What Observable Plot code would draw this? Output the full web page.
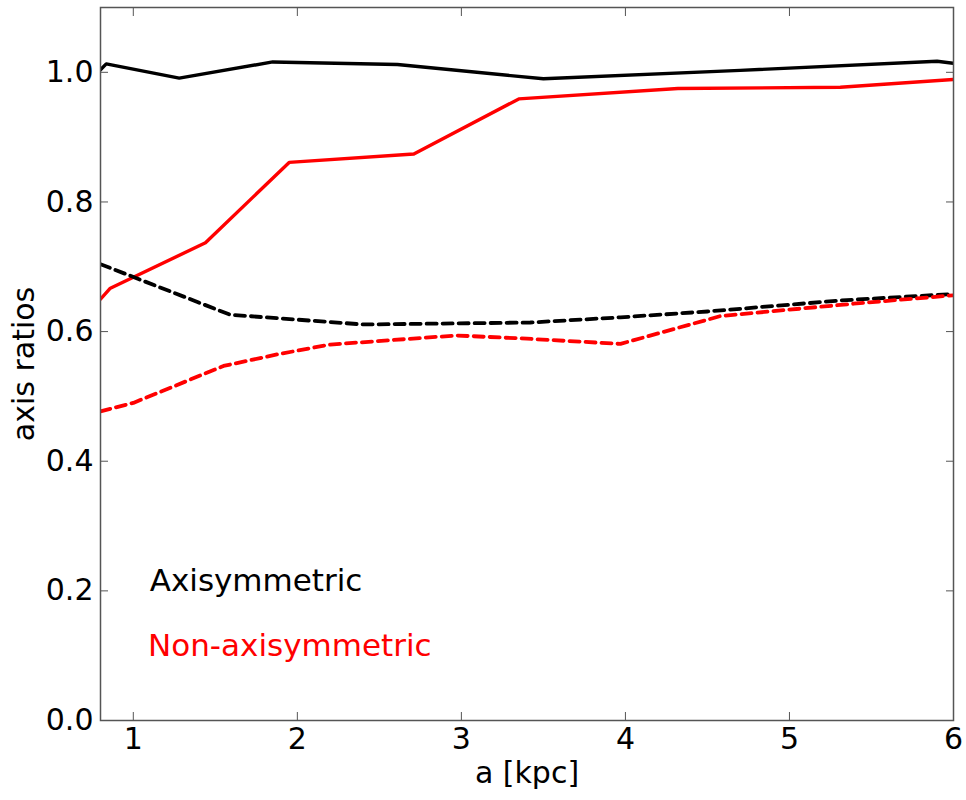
<!DOCTYPE html>
<html>
<head>
<meta charset="utf-8">
<script src="https://cdn.jsdelivr.net/npm/d3@7"></script>
<script src="https://cdn.jsdelivr.net/npm/@observablehq/plot@0.6"></script>
<style>
  html, body { margin: 0; padding: 0; background: #fff; }
  #chart svg { display: block; font-family: "DejaVu Sans", sans-serif; }
</style>
</head>
<body>
<div id="chart"></div>
<script>
// Axisymmetric model (black)
const axiSolidA = [0.80, 0.835, 1.28, 1.85, 2.61, 3.50, 4.70, 5.90, 6.00];
const axiSolidQ = [1.004, 1.013, 0.991, 1.016, 1.012, 0.990, 1.003, 1.017, 1.014];
const axiDashA  = [0.80, 1.59, 2.40, 3.42, 3.97, 4.50, 5.31, 6.00];
const axiDashQ  = [0.704, 0.626, 0.611, 0.614, 0.622, 0.631, 0.648, 0.658];
// Non-axisymmetric model (red)
const nonSolidA = [0.80, 0.86, 1.44, 1.95, 2.71, 3.35, 4.32, 5.31, 6.00];
const nonSolidQ = [0.650, 0.667, 0.737, 0.861, 0.874, 0.959, 0.975, 0.977, 0.989];
const nonDashA  = [0.80, 1.00, 1.55, 1.88, 2.20, 2.97, 3.40, 3.97, 4.58, 5.39, 6.00];
const nonDashQ  = [0.477, 0.490, 0.547, 0.565, 0.580, 0.594, 0.589, 0.581, 0.624, 0.643, 0.656];

const xTicks = [1, 2, 3, 4, 5, 6];
const yTicks = [0.0, 0.2, 0.4, 0.6, 0.8, 1.0];
const legendNames = ["Axisymmetric", "Non-axisymmetric"];
const legendColors = ["#000000", "#ff0000"];
const legendA = [1.1, 1.09];
const legendQ = [0.2, 0.1];

const toRows = (as, qs) => as.map((a, i) => ({a, q: qs[i]}));
const legendRows = legendNames.map((t, i) => ({t, a: legendA[i], q: legendQ[i], c: legendColors[i]}));

const frameColor = "#555";
const font = 30;

const chart = Plot.plot({
  width: 966,
  height: 800,
  marginLeft: 100,
  marginRight: 13,
  marginTop: 7,
  marginBottom: 80,
  style: {fontFamily: "DejaVu Sans", fontSize: font + "px", color: "#000", background: "#fff"},
  x: {domain: [0.8, 6], axis: null},
  y: {domain: [0, 1.1], axis: null},
  marks: [
    Plot.lineY(toRows(axiSolidA, axiSolidQ), {x: "a", y: "q", stroke: "#000", strokeWidth: 3.4, clip: true}),
    Plot.lineY(toRows(nonSolidA, nonSolidQ), {x: "a", y: "q", stroke: "#ff0000", strokeWidth: 3.4, clip: true}),
    Plot.lineY(toRows(axiDashA, axiDashQ), {x: "a", y: "q", stroke: "#000", strokeWidth: 3.8, strokeDasharray: "10,6", clip: true}),
    Plot.lineY(toRows(nonDashA, nonDashQ), {x: "a", y: "q", stroke: "#ff0000", strokeWidth: 3.8, strokeDasharray: "10,6", clip: true}),
    Plot.text(legendRows, {x: "a", y: "q", text: "t", fill: "c", textAnchor: "start", lineAnchor: "bottom", fontSize: 31}),
    // inward ticks on all four sides
    Plot.axisX(xTicks, {anchor: "bottom", tickSize: -8, text: null, stroke: frameColor, label: null}),
    Plot.axisX(xTicks, {anchor: "top", tickSize: -8, text: null, stroke: frameColor, label: null}),
    Plot.axisY(yTicks, {anchor: "left", tickSize: -8, text: null, stroke: frameColor, label: null}),
    Plot.axisY(yTicks, {anchor: "right", tickSize: -8, text: null, stroke: frameColor, label: null}),
    // tick labels + axis titles
    Plot.axisX(xTicks, {anchor: "bottom", tickSize: 0, tickPadding: 7, fontSize: 30, fill: "#000",
      tickFormat: d3.format("d"), label: "a [kpc]", labelAnchor: "center", labelArrow: "none", labelOffset: 62}),
    Plot.axisY(yTicks, {anchor: "left", tickSize: 0, tickPadding: 7, fontSize: 30, fill: "#000",
      tickFormat: d3.format(".1f"), label: "axis ratios", labelAnchor: "center", labelArrow: "none", labelOffset: 88}),
    Plot.frame({stroke: frameColor, strokeWidth: 1.5})
  ]
});
document.getElementById("chart").appendChild(chart);
</script>
</body>
</html>
